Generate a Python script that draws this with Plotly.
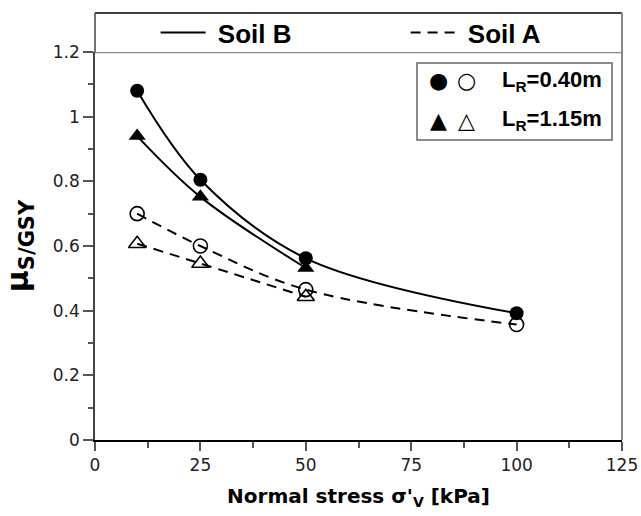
import plotly.graph_objects as go

# ---- data ----
stress = [10, 25, 50, 100]
stress_short = [10, 25, 50]
soilB_LR040 = [1.08, 0.805, 0.562, 0.392]
soilB_LR115 = [0.94, 0.752, 0.532]
soilA_LR040 = [0.70, 0.600, 0.465, 0.357]
soilA_LR115 = [0.607, 0.546, 0.443]

x_ticks = [0, 25, 50, 75, 100, 125]
y_ticks = [0, 0.2, 0.4, 0.6, 0.8, 1, 1.2]
y_ticklabels = ["0", "0.2", "0.4", "0.6", "0.8", "1", "1.2"]

DASH = "10px,7px"

fig = go.Figure()

# fitted curves (lines first so markers sit on top)
fig.add_trace(go.Scatter(x=stress, y=soilB_LR040, mode="lines", name="\u00a0Soil B",
                         line=dict(color="black", width=2, shape="spline"), showlegend=True))
fig.add_trace(go.Scatter(x=stress_short, y=soilB_LR115, mode="lines", name="Soil B",
                         line=dict(color="black", width=2, shape="spline"), showlegend=False))
fig.add_trace(go.Scatter(x=stress, y=soilA_LR040, mode="lines", name="\u00a0Soil A",
                         line=dict(color="black", width=2, shape="spline", dash=DASH), showlegend=True))
fig.add_trace(go.Scatter(x=stress_short, y=soilA_LR115, mode="lines", name="Soil A",
                         line=dict(color="black", width=2, shape="spline", dash=DASH), showlegend=False))

# markers
fig.add_trace(go.Scatter(x=stress, y=soilB_LR040, mode="markers", showlegend=False,
                         marker=dict(symbol="circle", size=14, color="black")))
fig.add_trace(go.Scatter(x=stress_short, y=soilB_LR115, mode="markers", showlegend=False,
                         marker=dict(symbol="triangle-up", size=15, color="black")))
fig.add_trace(go.Scatter(x=stress, y=soilA_LR040, mode="markers", showlegend=False,
                         marker=dict(symbol="circle-open", size=14, color="black", line=dict(width=1.6))))
fig.add_trace(go.Scatter(x=stress_short, y=soilA_LR115, mode="markers", showlegend=False,
                         marker=dict(symbol="triangle-up-open", size=15, color="black", line=dict(width=1.6))))

top_h = 39 / 388

fig.update_layout(
    width=641, height=516,
    margin=dict(l=95, r=19, t=52, b=76, autoexpand=False),
    plot_bgcolor="white", paper_bgcolor="white",
    font=dict(family="DejaVu Sans", size=17, color="#222"),
    legend=dict(orientation="h", x=0.115, xanchor="left", y=1 + top_h / 2, yanchor="middle",
                font=dict(family="Liberation Sans", size=26, color="black", weight="bold"),
                entrywidth=190, entrywidthmode="pixels",
                bgcolor="rgba(0,0,0,0)", itemwidth=45, tracegroupgap=0),
    xaxis=dict(range=[0, 125], tickvals=x_ticks, ticks="outside", ticklen=9, tickcolor="#555",
               tickwidth=1.5, showline=True, linecolor="black", linewidth=1.5, showgrid=False,
               zeroline=False, minor=dict(dtick=12.5, ticks="outside", ticklen=6, tickcolor="#555", tickwidth=1.5),
               title=dict(text="Normal stress σ'<sub>V</sub> [kPa]", standoff=15,
                          font=dict(family="DejaVu Sans", size=20, color="black", weight="bold"))),
    yaxis=dict(range=[0, 1.2], tickvals=y_ticks, ticktext=y_ticklabels, ticks="outside", ticklen=10,
               tickcolor="#555", tickwidth=1.5, showline=True, linecolor="#444", linewidth=1.5,
               showgrid=False, zeroline=False,
               minor=dict(dtick=0.1, ticks="outside", ticklen=5, tickcolor="#555", tickwidth=1.5),
               title=dict(text="μ<sub>S/GSY</sub>", standoff=18,
                          font=dict(family="DejaVu Sans", size=30, color="black", weight="bold"))),
)

shapes = [
    # header box above the plot
    dict(type="line", xref="paper", yref="paper", x0=0, x1=1, y0=1 + top_h, y1=1 + top_h,
         line=dict(color="black", width=1.5)),
    dict(type="line", xref="paper", yref="paper", x0=0, x1=0, y0=1, y1=1 + top_h,
         line=dict(color="#444", width=1.5)),
    dict(type="line", xref="paper", yref="paper", x0=1, x1=1, y0=0, y1=1 + top_h,
         line=dict(color="#888", width=2)),
    dict(type="line", xref="paper", yref="y", x0=0, x1=1, y0=1.2, y1=1.2,
         line=dict(color="#888", width=2.5)),
    # inner legend box
    dict(type="rect", xref="paper", yref="paper",
         x0=(417 - 95) / 527, x1=(612 - 95) / 527, y0=(440 - 140) / 388, y1=(440 - 63) / 388,
         line=dict(color="#666", width=1.5), fillcolor="rgba(0,0,0,0)"),
]
fig.update_layout(shapes=shapes)

def px(xp):
    return (xp - 95) / 527

def py(yp):
    return (440 - yp) / 388

annos = [
    dict(text="●", x=px(438), y=py(81)),
    dict(text="○", x=px(466), y=py(81)),
    dict(text="▲", x=px(438), y=py(120)),
    dict(text="△", x=px(466), y=py(120)),
]
annotations = []
for a in annos:
    annotations.append(dict(text=a["text"], x=a["x"], y=a["y"], xref="paper", yref="paper",
                            showarrow=False, xanchor="center", yanchor="middle",
                            font=dict(family="DejaVu Sans", size=22, color="black")))
for label, yp in [("L<sub>R</sub>=0.40m", 81), ("L<sub>R</sub>=1.15m", 120)]:
    annotations.append(dict(text=label, x=px(500), y=py(yp), xref="paper", yref="paper",
                            showarrow=False, xanchor="left", yanchor="middle",
                            font=dict(family="Liberation Sans", size=22, color="black", weight="bold")))
fig.update_layout(annotations=annotations)

fig.write_html("out.html")
